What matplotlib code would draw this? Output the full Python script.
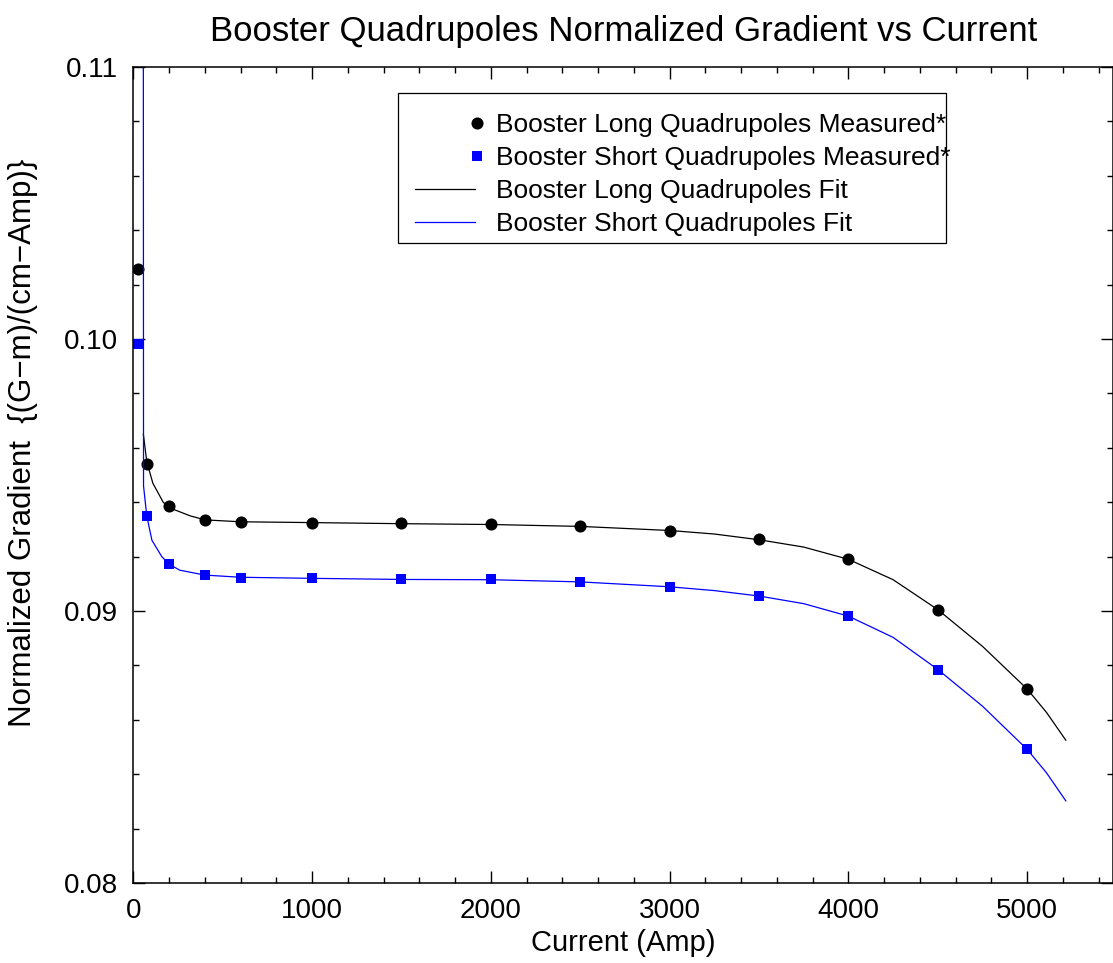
import numpy as np
import matplotlib
matplotlib.use("Agg")
import matplotlib.pyplot as plt
from matplotlib.ticker import MultipleLocator
from matplotlib.legend_handler import HandlerLine2D
from matplotlib.lines import Line2D
from matplotlib.patches import Rectangle

plt.rcParams['font.family'] = ['Liberation Sans', 'DejaVu Sans']

# measured points
meas_x = [25, 75, 200, 400, 600, 1000, 1500, 2000, 2500, 3000, 3500, 4000, 4500, 5000]
long_meas = [0.10258, 0.09542, 0.09387, 0.09333, 0.09327, 0.09325, 0.09322, 0.09319,
             0.09311, 0.09294, 0.09263, 0.09190, 0.09003, 0.08713]
short_meas = [0.09982, 0.09351, 0.09174, 0.09131, 0.09122, 0.09121, 0.09116, 0.09116,
              0.09107, 0.09089, 0.09055, 0.08981, 0.08783, 0.08491]

# fit curves
long_fit_x = [56, 75, 109, 167, 200, 317, 400, 600, 1000, 1500, 2000, 2500, 3000, 3250,
              3500, 3750, 4000, 4250, 4500, 4750, 5000, 5108, 5216]
long_fit_y = [0.0965, 0.0955, 0.0947, 0.0940, 0.0938, 0.0935, 0.09335, 0.09328, 0.09325,
              0.09321, 0.09318, 0.09311, 0.09296, 0.09283, 0.09262, 0.09235, 0.09190, 0.09115,
              0.09005, 0.08870, 0.08713, 0.08627, 0.08525]
short_fit_x = [55, 57, 75, 104, 159, 200, 260, 400, 600, 1000, 1500, 2000, 2500, 3000, 3250,
               3500, 3750, 4000, 4250, 4500, 4750, 5000, 5108, 5216]
short_fit_y = [0.125, 0.0946, 0.0935, 0.0926, 0.0920, 0.09172, 0.0915, 0.09132, 0.09124,
               0.09120, 0.09116, 0.09115, 0.09107, 0.09089, 0.09075, 0.09055, 0.09027, 0.08981,
               0.08903, 0.08785, 0.08650, 0.08491, 0.08405, 0.08302]


class RightMarker(HandlerLine2D):
    # single legend marker at the right end of the handle box, no line
    def create_artists(self, legend, orig_handle, xdescent, ydescent, width, height,
                       fontsize, trans):
        m = Line2D([width - xdescent + 1.0], [(height - ydescent) / 2])
        self.update_prop(m, orig_handle, legend)
        m.set_linestyle("None")
        m.set_transform(trans)
        return [m]


fig = plt.figure(figsize=(11.13, 9.63), dpi=100)
ax = fig.add_axes([0.1198, 0.0831, 0.8802, 0.8473])

l1, = ax.plot(meas_x, long_meas, "o", color="black", ms=8.7, mew=0,
              label="Booster Long Quadrupoles Measured*")
l2, = ax.plot(meas_x, short_meas, "s", color="#0000ff", ms=7.2, mew=0,
              label="Booster Short Quadrupoles Measured*")
ax.plot(long_fit_x, long_fit_y, "-", color="black", lw=0.9, label="Booster Long Quadrupoles Fit")
ax.plot(short_fit_x, short_fit_y, "-", color="#0000ff", lw=0.9, label="Booster Short Quadrupoles Fit")

ax.set_xlim(0, 5480)
ax.set_ylim(0.08, 0.11)
ax.xaxis.set_major_locator(MultipleLocator(1000))
ax.xaxis.set_minor_locator(MultipleLocator(200))
ax.yaxis.set_major_locator(MultipleLocator(0.01))
ax.yaxis.set_minor_locator(MultipleLocator(0.002))
ax.set_yticks([0.08, 0.09, 0.10, 0.11])
ax.set_yticklabels(["0.08", "0.09", "0.10", "0.11"])
ax.tick_params(which="both", direction="in", top=True, right=True, labelsize=20, width=1)
ax.tick_params(which="major", length=8.5, pad=11)
ax.tick_params(which="minor", length=4.5)
for s in ax.spines.values():
    s.set_linewidth(1.1)

ax.set_xlabel("Current (Amp)", fontsize=21)
ax.xaxis.set_label_coords(0.5, -0.057)
ax.set_ylabel("Normalized Gradient  {(G\u2212m)/(cm\u2212Amp)}", fontsize=22.5)
ax.yaxis.set_label_coords(-0.097, 0.54)
ax.set_title("Booster Quadrupoles Normalized Gradient vs Current", fontsize=25, pad=19)

# legend box drawn separately so the text can run up to its right edge
ax.add_patch(Rectangle((0.270, 0.784), 0.5596, 0.184, transform=ax.transAxes,
                       fill=False, edgecolor="black", lw=0.9, zorder=5))
leg = ax.legend(loc="upper left", bbox_to_anchor=(0.271, 0.963), fontsize=19,
                frameon=False, handlelength=2.3,
                handletextpad=0.8, numpoints=1, borderpad=0.6, labelspacing=0.34,
                borderaxespad=0, handler_map={l1: RightMarker(), l2: RightMarker()})

plt.savefig("out.png", dpi=100)
